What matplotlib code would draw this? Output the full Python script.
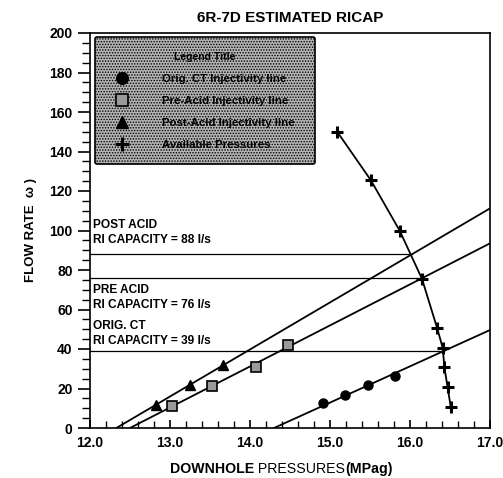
import numpy as np
import matplotlib
matplotlib.use('Agg')
import matplotlib.pyplot as plt

plt.rcParams['font.family'] = ['Liberation Sans', 'DejaVu Sans']
plt.rcParams['hatch.color'] = '#2e2e2e'
plt.rcParams['hatch.linewidth'] = 0.7

# measured points
orig_p = [14.91, 15.19, 15.48, 15.81]
orig_q = [12.5, 16.7, 21.8, 26.3]
pre_p = [13.02, 13.52, 14.08, 14.47]
pre_q = [11.3, 21.3, 31.0, 42.0]
post_p = [12.83, 13.25, 13.66]
post_q = [11.6, 21.8, 31.9]

# available pressure curve
avail_p = [15.09, 15.51, 15.87, 16.15, 16.34, 16.41, 16.43, 16.47, 16.51]
avail_q = [150, 125.5, 100, 75.5, 50.5, 40.4, 30.7, 20.6, 10.5]

# injectivity fit lines (pressure at zero flow, flow at 17 MPa)
fit_names = ['orig', 'pre', 'post']
fit_p0 = [14.30, 12.50, 12.33]
fit_q17 = [49.6, 93.5, 111.2]

# RI capacity (flow, pressure where it meets the available curve)
cap_labels = ['POST ACID\nRI CAPACITY = 88 l/s',
              'PRE ACID\nRI CAPACITY = 76 l/s',
              'ORIG. CT\nRI CAPACITY = 39 l/s']
cap_q = [88, 76, 39]
cap_p = [16.02, 16.15, 16.43]
cap_text_q = [99, 66, 48]

fig = plt.figure(figsize=(5.03, 4.78), dpi=100)
ax = fig.add_axes([90 / 503, 1 - 428 / 478, 400 / 503, 395 / 478])

line_style = dict(color='k', lw=1.3)

for p0, q17 in zip(fit_p0, fit_q17):
    ax.plot([p0, 17.0], [0, q17], **line_style)

for q, p in zip(cap_q, cap_p):
    ax.plot([12.0, p], [q, q], color='k', lw=0.9)

for txt, q in zip(cap_labels, cap_text_q):
    ax.text(12.04, q, txt, fontsize=8.6, fontweight='bold', va='center',
            ha='left', linespacing=1.35)

ax.plot(avail_p, avail_q, **line_style)
h_avail, = ax.plot(avail_p, avail_q, ls='none', marker='+', ms=8, mew=2.2,
                   color='k')
h_orig, = ax.plot(orig_p, orig_q, ls='none', marker='o', ms=6.5, color='k')
h_pre, = ax.plot(pre_p, pre_q, ls='none', marker='s', ms=6.5, mfc='#9a9a9a',
                 mec='k', mew=1.2)
h_post, = ax.plot(post_p, post_q, ls='none', marker='^', ms=6.5, color='k')

plt.setp(ax, xlim=(12, 17), ylim=(0, 200))
ax.set_xticks(np.arange(12, 17.01, 1.0))
ax.set_xticks(np.arange(12, 17.01, 0.2), minor=True)
ax.set_yticks(np.arange(0, 201, 20))
ax.set_yticks(np.arange(0, 201, 5), minor=True)
ax.set_xticklabels([f'{v:.1f}' for v in np.arange(12, 17.01, 1.0)])
ax.tick_params(axis='x', which='major', direction='in', length=6, width=1.2,
               labelsize=10, pad=6)
ax.tick_params(axis='x', which='minor', direction='in', length=5, width=1.0)
ax.tick_params(axis='y', which='major', direction='out', length=9, width=1.2,
               labelsize=10)
ax.tick_params(axis='y', which='minor', direction='out', length=6, width=1.0)
for lab in ax.get_xticklabels() + ax.get_yticklabels():
    lab.set_fontweight('bold')
for s in ax.spines.values():
    s.set_linewidth(1.2)

ax.set_title('6R-7D ESTIMATED RICAP', fontsize=11, fontweight='bold',
             pad=8)
ax.set_ylabel('FLOW RATE  \u03c9 )', fontsize=9.5, fontweight='bold',
              labelpad=9)

t1 = fig.text(170 / 503, 1 - 476 / 478, 'DOWNHOLE', fontsize=10.2,
              fontweight='bold', va='bottom', ha='left')
t2 = ax.annotate(' PRESSURES', xy=(1, 0), xycoords=t1, va='bottom',
                 ha='left', fontsize=10.2)
ax.annotate('(MPag)', xy=(1, 0), xycoords=t2, va='bottom', ha='left',
            fontsize=10.2, fontweight='bold')

handles = [h_orig, h_pre, h_post, h_avail]
labels = ['Orig. CT Injectivity line', 'Pre-Acid Injectivity line',
          'Post-Acid Injectivity line', 'Available Pressures']
leg = ax.legend(handles, labels, title='Legend Title', loc='upper left',
                bbox_to_anchor=(0.0125, 0.99, 0.55, 0.0), mode='expand',
                fancybox=True, framealpha=1, edgecolor='k',
                facecolor='#b4b4b4', prop=dict(size=8.2, weight='bold'),
                title_fontproperties=dict(size=7.5, weight='bold'),
                labelspacing=1.05, borderpad=1.3, handletextpad=2.4,
                handlelength=2.2, markerscale=1.3, borderaxespad=0)
frame = leg.get_frame()
frame.set_hatch('......')
frame.set_linewidth(1.2)

fig.savefig('out.png', dpi=100)
